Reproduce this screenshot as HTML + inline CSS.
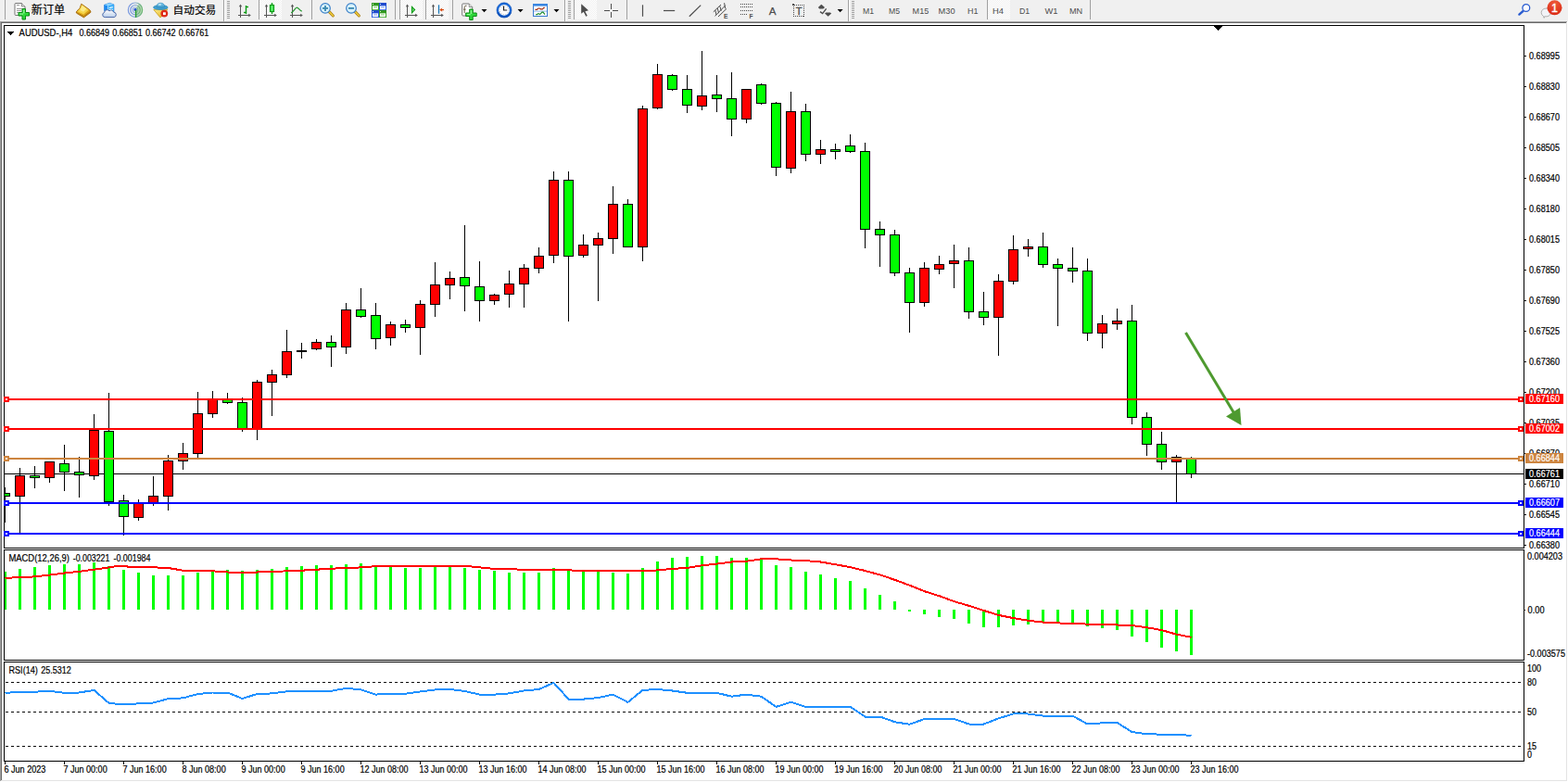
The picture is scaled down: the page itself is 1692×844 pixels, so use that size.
<!DOCTYPE html>
<html><head><meta charset="utf-8"><title>AUDUSD H4</title>
<style>
html,body{margin:0;padding:0;width:1692px;height:844px;overflow:hidden;background:#f0f0f0;font-family:"Liberation Sans",sans-serif}
svg text{font-family:"Liberation Sans",sans-serif}
</style></head><body>
<svg width="1692" height="844" viewBox="0 0 1692 844" font-family="Liberation Sans, sans-serif" style="position:absolute;left:0;top:0;display:block">
<rect x="0" y="0" width="1692" height="844" fill="#f0f0f0"/>
<rect x="0" y="23" width="1692" height="821" fill="#fff"/>
<rect x="0" y="23" width="1691" height="1" fill="#a0a0a0"/>
<rect x="1" y="24" width="1689" height="1" fill="#696969"/>
<rect x="0" y="23" width="1" height="820" fill="#a0a0a0"/>
<rect x="1" y="24" width="1" height="818" fill="#696969"/>
<rect x="1690" y="24" width="1" height="819" fill="#e3e3e3"/>
<rect x="1" y="842" width="1690" height="1" fill="#e3e3e3"/>
<g shape-rendering="crispEdges">
<rect x="4.5" y="27.5" width="1640" height="564" fill="#fff" stroke="#000" stroke-width="1"/>
<rect x="4.5" y="593.5" width="1640" height="119" fill="#fff" stroke="#000" stroke-width="1"/>
<rect x="4.5" y="714.5" width="1640" height="107" fill="#fff" stroke="#000" stroke-width="1"/>
<rect x="1645" y="60" width="2" height="1" fill="#000"/>
<rect x="1645" y="93" width="2" height="1" fill="#000"/>
<rect x="1645" y="126" width="2" height="1" fill="#000"/>
<rect x="1645" y="159" width="2" height="1" fill="#000"/>
<rect x="1645" y="192" width="2" height="1" fill="#000"/>
<rect x="1645" y="225" width="2" height="1" fill="#000"/>
<rect x="1645" y="258" width="2" height="1" fill="#000"/>
<rect x="1645" y="291" width="2" height="1" fill="#000"/>
<rect x="1645" y="324" width="2" height="1" fill="#000"/>
<rect x="1645" y="357" width="2" height="1" fill="#000"/>
<rect x="1645" y="390" width="2" height="1" fill="#000"/>
<rect x="1645" y="423" width="2" height="1" fill="#000"/>
<rect x="1645" y="456" width="2" height="1" fill="#000"/>
<rect x="1645" y="489" width="2" height="1" fill="#000"/>
<rect x="1645" y="522" width="2" height="1" fill="#000"/>
<rect x="1645" y="555" width="2" height="1" fill="#000"/>
<rect x="1645" y="588" width="2" height="1" fill="#000"/>
</g>
<text x="1650" y="64" font-size="10.1" fill="#000" stroke="#000" stroke-width="0.2" textLength="33" lengthAdjust="spacingAndGlyphs" >0.68995</text>
<text x="1650" y="97" font-size="10.1" fill="#000" stroke="#000" stroke-width="0.2" textLength="33" lengthAdjust="spacingAndGlyphs" >0.68830</text>
<text x="1650" y="130" font-size="10.1" fill="#000" stroke="#000" stroke-width="0.2" textLength="33" lengthAdjust="spacingAndGlyphs" >0.68670</text>
<text x="1650" y="163" font-size="10.1" fill="#000" stroke="#000" stroke-width="0.2" textLength="33" lengthAdjust="spacingAndGlyphs" >0.68505</text>
<text x="1650" y="196" font-size="10.1" fill="#000" stroke="#000" stroke-width="0.2" textLength="33" lengthAdjust="spacingAndGlyphs" >0.68340</text>
<text x="1650" y="229" font-size="10.1" fill="#000" stroke="#000" stroke-width="0.2" textLength="33" lengthAdjust="spacingAndGlyphs" >0.68180</text>
<text x="1650" y="262" font-size="10.1" fill="#000" stroke="#000" stroke-width="0.2" textLength="33" lengthAdjust="spacingAndGlyphs" >0.68015</text>
<text x="1650" y="295" font-size="10.1" fill="#000" stroke="#000" stroke-width="0.2" textLength="33" lengthAdjust="spacingAndGlyphs" >0.67850</text>
<text x="1650" y="328" font-size="10.1" fill="#000" stroke="#000" stroke-width="0.2" textLength="33" lengthAdjust="spacingAndGlyphs" >0.67690</text>
<text x="1650" y="361" font-size="10.1" fill="#000" stroke="#000" stroke-width="0.2" textLength="33" lengthAdjust="spacingAndGlyphs" >0.67525</text>
<text x="1650" y="394" font-size="10.1" fill="#000" stroke="#000" stroke-width="0.2" textLength="33" lengthAdjust="spacingAndGlyphs" >0.67360</text>
<text x="1650" y="427" font-size="10.1" fill="#000" stroke="#000" stroke-width="0.2" textLength="33" lengthAdjust="spacingAndGlyphs" >0.67200</text>
<text x="1650" y="460" font-size="10.1" fill="#000" stroke="#000" stroke-width="0.2" textLength="33" lengthAdjust="spacingAndGlyphs" >0.67035</text>
<text x="1650" y="493" font-size="10.1" fill="#000" stroke="#000" stroke-width="0.2" textLength="33" lengthAdjust="spacingAndGlyphs" >0.66870</text>
<text x="1650" y="526" font-size="10.1" fill="#000" stroke="#000" stroke-width="0.2" textLength="33" lengthAdjust="spacingAndGlyphs" >0.66710</text>
<text x="1650" y="559" font-size="10.1" fill="#000" stroke="#000" stroke-width="0.2" textLength="33" lengthAdjust="spacingAndGlyphs" >0.66545</text>
<text x="1650" y="592" font-size="10.1" fill="#000" stroke="#000" stroke-width="0.2" textLength="33" lengthAdjust="spacingAndGlyphs" >0.66380</text>
<g shape-rendering="crispEdges">
<rect x="5" y="511" width="1639" height="1" fill="#000"/>
<clipPath id="cp"><rect x="5" y="28" width="1639" height="563"/></clipPath>
<g clip-path="url(#cp)">
<rect x="5" y="526" width="1" height="38" fill="#000"/>
<rect x="0" y="532" width="11" height="4" fill="#000"/>
<rect x="1" y="533" width="9" height="2" fill="#00ff00"/>
<rect x="21" y="505" width="1" height="70" fill="#000"/>
<rect x="16" y="513" width="11" height="23" fill="#000"/>
<rect x="17" y="514" width="9" height="21" fill="#ff0000"/>
<rect x="37" y="503" width="1" height="24" fill="#000"/>
<rect x="32" y="513" width="11" height="3" fill="#000"/>
<rect x="33" y="514" width="9" height="1" fill="#00ff00"/>
<rect x="53" y="498" width="1" height="23" fill="#000"/>
<rect x="48" y="498" width="11" height="18" fill="#000"/>
<rect x="49" y="499" width="9" height="16" fill="#ff0000"/>
<rect x="69" y="480" width="1" height="50" fill="#000"/>
<rect x="64" y="500" width="11" height="10" fill="#000"/>
<rect x="65" y="501" width="9" height="8" fill="#00ff00"/>
<rect x="85" y="493" width="1" height="44" fill="#000"/>
<rect x="80" y="509" width="11" height="4" fill="#000"/>
<rect x="81" y="510" width="9" height="2" fill="#00ff00"/>
<rect x="101" y="447" width="1" height="71" fill="#000"/>
<rect x="96" y="464" width="11" height="50" fill="#000"/>
<rect x="97" y="465" width="9" height="48" fill="#ff0000"/>
<rect x="117" y="424" width="1" height="122" fill="#000"/>
<rect x="112" y="465" width="11" height="77" fill="#000"/>
<rect x="113" y="466" width="9" height="75" fill="#00ff00"/>
<rect x="133" y="534" width="1" height="44" fill="#000"/>
<rect x="128" y="540" width="11" height="18" fill="#000"/>
<rect x="129" y="541" width="9" height="16" fill="#00ff00"/>
<rect x="149" y="539" width="1" height="23" fill="#000"/>
<rect x="144" y="543" width="11" height="16" fill="#000"/>
<rect x="145" y="544" width="9" height="14" fill="#ff0000"/>
<rect x="165" y="514" width="1" height="32" fill="#000"/>
<rect x="160" y="535" width="11" height="8" fill="#000"/>
<rect x="161" y="536" width="9" height="6" fill="#ff0000"/>
<rect x="181" y="491" width="1" height="60" fill="#000"/>
<rect x="176" y="497" width="11" height="39" fill="#000"/>
<rect x="177" y="498" width="9" height="37" fill="#ff0000"/>
<rect x="197" y="478" width="1" height="29" fill="#000"/>
<rect x="192" y="489" width="11" height="9" fill="#000"/>
<rect x="193" y="490" width="9" height="7" fill="#ff0000"/>
<rect x="213" y="423" width="1" height="71" fill="#000"/>
<rect x="208" y="446" width="11" height="44" fill="#000"/>
<rect x="209" y="447" width="9" height="42" fill="#ff0000"/>
<rect x="229" y="422" width="1" height="29" fill="#000"/>
<rect x="224" y="430" width="11" height="17" fill="#000"/>
<rect x="225" y="431" width="9" height="15" fill="#ff0000"/>
<rect x="245" y="424" width="1" height="12" fill="#000"/>
<rect x="240" y="431" width="11" height="4" fill="#000"/>
<rect x="241" y="432" width="9" height="2" fill="#00ff00"/>
<rect x="261" y="429" width="1" height="37" fill="#000"/>
<rect x="256" y="434" width="11" height="29" fill="#000"/>
<rect x="257" y="435" width="9" height="27" fill="#00ff00"/>
<rect x="277" y="410" width="1" height="65" fill="#000"/>
<rect x="272" y="412" width="11" height="51" fill="#000"/>
<rect x="273" y="413" width="9" height="49" fill="#ff0000"/>
<rect x="293" y="399" width="1" height="50" fill="#000"/>
<rect x="288" y="404" width="11" height="9" fill="#000"/>
<rect x="289" y="405" width="9" height="7" fill="#ff0000"/>
<rect x="309" y="356" width="1" height="52" fill="#000"/>
<rect x="304" y="379" width="11" height="26" fill="#000"/>
<rect x="305" y="380" width="9" height="24" fill="#ff0000"/>
<rect x="325" y="370" width="1" height="17" fill="#000"/>
<rect x="320" y="378" width="11" height="2" fill="#000"/>
<rect x="341" y="366" width="1" height="12" fill="#000"/>
<rect x="336" y="369" width="11" height="8" fill="#000"/>
<rect x="337" y="370" width="9" height="6" fill="#ff0000"/>
<rect x="357" y="362" width="1" height="34" fill="#000"/>
<rect x="352" y="369" width="11" height="6" fill="#000"/>
<rect x="353" y="370" width="9" height="4" fill="#00ff00"/>
<rect x="373" y="327" width="1" height="55" fill="#000"/>
<rect x="368" y="334" width="11" height="41" fill="#000"/>
<rect x="369" y="335" width="9" height="39" fill="#ff0000"/>
<rect x="389" y="311" width="1" height="32" fill="#000"/>
<rect x="384" y="334" width="11" height="8" fill="#000"/>
<rect x="385" y="335" width="9" height="6" fill="#00ff00"/>
<rect x="405" y="327" width="1" height="50" fill="#000"/>
<rect x="400" y="340" width="11" height="26" fill="#000"/>
<rect x="401" y="341" width="9" height="24" fill="#00ff00"/>
<rect x="421" y="347" width="1" height="26" fill="#000"/>
<rect x="416" y="350" width="11" height="15" fill="#000"/>
<rect x="417" y="351" width="9" height="13" fill="#ff0000"/>
<rect x="437" y="345" width="1" height="14" fill="#000"/>
<rect x="432" y="350" width="11" height="4" fill="#000"/>
<rect x="433" y="351" width="9" height="2" fill="#00ff00"/>
<rect x="453" y="324" width="1" height="59" fill="#000"/>
<rect x="448" y="328" width="11" height="26" fill="#000"/>
<rect x="449" y="329" width="9" height="24" fill="#ff0000"/>
<rect x="469" y="283" width="1" height="59" fill="#000"/>
<rect x="464" y="307" width="11" height="22" fill="#000"/>
<rect x="465" y="308" width="9" height="20" fill="#ff0000"/>
<rect x="485" y="293" width="1" height="30" fill="#000"/>
<rect x="480" y="300" width="11" height="8" fill="#000"/>
<rect x="481" y="301" width="9" height="6" fill="#ff0000"/>
<rect x="501" y="243" width="1" height="93" fill="#000"/>
<rect x="496" y="299" width="11" height="10" fill="#000"/>
<rect x="497" y="300" width="9" height="8" fill="#00ff00"/>
<rect x="517" y="282" width="1" height="65" fill="#000"/>
<rect x="512" y="309" width="11" height="16" fill="#000"/>
<rect x="513" y="310" width="9" height="14" fill="#00ff00"/>
<rect x="533" y="317" width="1" height="12" fill="#000"/>
<rect x="528" y="318" width="11" height="7" fill="#000"/>
<rect x="529" y="319" width="9" height="5" fill="#ff0000"/>
<rect x="549" y="292" width="1" height="40" fill="#000"/>
<rect x="544" y="306" width="11" height="12" fill="#000"/>
<rect x="545" y="307" width="9" height="10" fill="#ff0000"/>
<rect x="565" y="285" width="1" height="47" fill="#000"/>
<rect x="560" y="289" width="11" height="18" fill="#000"/>
<rect x="561" y="290" width="9" height="16" fill="#ff0000"/>
<rect x="581" y="267" width="1" height="28" fill="#000"/>
<rect x="576" y="276" width="11" height="14" fill="#000"/>
<rect x="577" y="277" width="9" height="12" fill="#ff0000"/>
<rect x="597" y="185" width="1" height="99" fill="#000"/>
<rect x="592" y="194" width="11" height="82" fill="#000"/>
<rect x="593" y="195" width="9" height="80" fill="#ff0000"/>
<rect x="613" y="185" width="1" height="162" fill="#000"/>
<rect x="608" y="194" width="11" height="83" fill="#000"/>
<rect x="609" y="195" width="9" height="81" fill="#00ff00"/>
<rect x="629" y="253" width="1" height="25" fill="#000"/>
<rect x="624" y="264" width="11" height="12" fill="#000"/>
<rect x="625" y="265" width="9" height="10" fill="#ff0000"/>
<rect x="645" y="251" width="1" height="74" fill="#000"/>
<rect x="640" y="257" width="11" height="8" fill="#000"/>
<rect x="641" y="258" width="9" height="6" fill="#ff0000"/>
<rect x="661" y="201" width="1" height="73" fill="#000"/>
<rect x="656" y="220" width="11" height="38" fill="#000"/>
<rect x="657" y="221" width="9" height="36" fill="#ff0000"/>
<rect x="677" y="215" width="1" height="51" fill="#000"/>
<rect x="672" y="220" width="11" height="47" fill="#000"/>
<rect x="673" y="221" width="9" height="45" fill="#00ff00"/>
<rect x="693" y="114" width="1" height="168" fill="#000"/>
<rect x="688" y="117" width="11" height="150" fill="#000"/>
<rect x="689" y="118" width="9" height="148" fill="#ff0000"/>
<rect x="709" y="69" width="1" height="49" fill="#000"/>
<rect x="704" y="80" width="11" height="37" fill="#000"/>
<rect x="705" y="81" width="9" height="35" fill="#ff0000"/>
<rect x="725" y="80" width="1" height="18" fill="#000"/>
<rect x="720" y="81" width="11" height="16" fill="#000"/>
<rect x="721" y="82" width="9" height="14" fill="#00ff00"/>
<rect x="741" y="81" width="1" height="41" fill="#000"/>
<rect x="736" y="96" width="11" height="18" fill="#000"/>
<rect x="737" y="97" width="9" height="16" fill="#00ff00"/>
<rect x="757" y="55" width="1" height="64" fill="#000"/>
<rect x="752" y="103" width="11" height="12" fill="#000"/>
<rect x="753" y="104" width="9" height="10" fill="#ff0000"/>
<rect x="773" y="81" width="1" height="40" fill="#000"/>
<rect x="768" y="102" width="11" height="5" fill="#000"/>
<rect x="769" y="103" width="9" height="3" fill="#00ff00"/>
<rect x="789" y="78" width="1" height="69" fill="#000"/>
<rect x="784" y="106" width="11" height="23" fill="#000"/>
<rect x="785" y="107" width="9" height="21" fill="#00ff00"/>
<rect x="805" y="96" width="1" height="37" fill="#000"/>
<rect x="800" y="96" width="11" height="33" fill="#000"/>
<rect x="801" y="97" width="9" height="31" fill="#ff0000"/>
<rect x="821" y="90" width="1" height="23" fill="#000"/>
<rect x="816" y="91" width="11" height="21" fill="#000"/>
<rect x="817" y="92" width="9" height="19" fill="#00ff00"/>
<rect x="837" y="110" width="1" height="80" fill="#000"/>
<rect x="832" y="111" width="11" height="70" fill="#000"/>
<rect x="833" y="112" width="9" height="68" fill="#00ff00"/>
<rect x="853" y="99" width="1" height="88" fill="#000"/>
<rect x="848" y="120" width="11" height="62" fill="#000"/>
<rect x="849" y="121" width="9" height="60" fill="#ff0000"/>
<rect x="869" y="112" width="1" height="62" fill="#000"/>
<rect x="864" y="120" width="11" height="47" fill="#000"/>
<rect x="865" y="121" width="9" height="45" fill="#00ff00"/>
<rect x="885" y="151" width="1" height="26" fill="#000"/>
<rect x="880" y="161" width="11" height="6" fill="#000"/>
<rect x="881" y="162" width="9" height="4" fill="#ff0000"/>
<rect x="901" y="155" width="1" height="17" fill="#000"/>
<rect x="896" y="161" width="11" height="3" fill="#000"/>
<rect x="897" y="162" width="9" height="1" fill="#00ff00"/>
<rect x="917" y="145" width="1" height="20" fill="#000"/>
<rect x="912" y="157" width="11" height="7" fill="#000"/>
<rect x="913" y="158" width="9" height="5" fill="#00ff00"/>
<rect x="933" y="154" width="1" height="114" fill="#000"/>
<rect x="928" y="163" width="11" height="85" fill="#000"/>
<rect x="929" y="164" width="9" height="83" fill="#00ff00"/>
<rect x="949" y="239" width="1" height="49" fill="#000"/>
<rect x="944" y="247" width="11" height="7" fill="#000"/>
<rect x="945" y="248" width="9" height="5" fill="#00ff00"/>
<rect x="965" y="248" width="1" height="50" fill="#000"/>
<rect x="960" y="253" width="11" height="42" fill="#000"/>
<rect x="961" y="254" width="9" height="40" fill="#00ff00"/>
<rect x="981" y="289" width="1" height="70" fill="#000"/>
<rect x="976" y="294" width="11" height="33" fill="#000"/>
<rect x="977" y="295" width="9" height="31" fill="#00ff00"/>
<rect x="997" y="283" width="1" height="48" fill="#000"/>
<rect x="992" y="289" width="11" height="38" fill="#000"/>
<rect x="993" y="290" width="9" height="36" fill="#ff0000"/>
<rect x="1013" y="276" width="1" height="20" fill="#000"/>
<rect x="1008" y="285" width="11" height="6" fill="#000"/>
<rect x="1009" y="286" width="9" height="4" fill="#ff0000"/>
<rect x="1029" y="264" width="1" height="47" fill="#000"/>
<rect x="1024" y="281" width="11" height="4" fill="#000"/>
<rect x="1025" y="282" width="9" height="2" fill="#ff0000"/>
<rect x="1045" y="267" width="1" height="77" fill="#000"/>
<rect x="1040" y="281" width="11" height="56" fill="#000"/>
<rect x="1041" y="282" width="9" height="54" fill="#00ff00"/>
<rect x="1061" y="315" width="1" height="36" fill="#000"/>
<rect x="1056" y="336" width="11" height="7" fill="#000"/>
<rect x="1057" y="337" width="9" height="5" fill="#00ff00"/>
<rect x="1077" y="296" width="1" height="88" fill="#000"/>
<rect x="1072" y="303" width="11" height="40" fill="#000"/>
<rect x="1073" y="304" width="9" height="38" fill="#ff0000"/>
<rect x="1093" y="254" width="1" height="53" fill="#000"/>
<rect x="1088" y="269" width="11" height="35" fill="#000"/>
<rect x="1089" y="270" width="9" height="33" fill="#ff0000"/>
<rect x="1109" y="258" width="1" height="19" fill="#000"/>
<rect x="1104" y="266" width="11" height="3" fill="#000"/>
<rect x="1105" y="267" width="9" height="1" fill="#ff0000"/>
<rect x="1125" y="251" width="1" height="38" fill="#000"/>
<rect x="1120" y="266" width="11" height="20" fill="#000"/>
<rect x="1121" y="267" width="9" height="18" fill="#00ff00"/>
<rect x="1141" y="279" width="1" height="73" fill="#000"/>
<rect x="1136" y="285" width="11" height="5" fill="#000"/>
<rect x="1137" y="286" width="9" height="3" fill="#00ff00"/>
<rect x="1157" y="267" width="1" height="38" fill="#000"/>
<rect x="1152" y="289" width="11" height="4" fill="#000"/>
<rect x="1153" y="290" width="9" height="2" fill="#00ff00"/>
<rect x="1173" y="279" width="1" height="89" fill="#000"/>
<rect x="1168" y="292" width="11" height="68" fill="#000"/>
<rect x="1169" y="293" width="9" height="66" fill="#00ff00"/>
<rect x="1189" y="340" width="1" height="36" fill="#000"/>
<rect x="1184" y="349" width="11" height="11" fill="#000"/>
<rect x="1185" y="350" width="9" height="9" fill="#ff0000"/>
<rect x="1205" y="333" width="1" height="23" fill="#000"/>
<rect x="1200" y="346" width="11" height="4" fill="#000"/>
<rect x="1201" y="347" width="9" height="2" fill="#ff0000"/>
<rect x="1221" y="329" width="1" height="129" fill="#000"/>
<rect x="1216" y="346" width="11" height="105" fill="#000"/>
<rect x="1217" y="347" width="9" height="103" fill="#00ff00"/>
<rect x="1237" y="445" width="1" height="47" fill="#000"/>
<rect x="1232" y="450" width="11" height="30" fill="#000"/>
<rect x="1233" y="451" width="9" height="28" fill="#00ff00"/>
<rect x="1253" y="466" width="1" height="41" fill="#000"/>
<rect x="1248" y="479" width="11" height="20" fill="#000"/>
<rect x="1249" y="480" width="9" height="18" fill="#00ff00"/>
<rect x="1269" y="491" width="1" height="51" fill="#000"/>
<rect x="1264" y="493" width="11" height="6" fill="#000"/>
<rect x="1265" y="494" width="9" height="4" fill="#ff0000"/>
<rect x="1285" y="493" width="1" height="23" fill="#000"/>
<rect x="1280" y="495" width="11" height="17" fill="#000"/>
<rect x="1281" y="496" width="9" height="15" fill="#00ff00"/>
</g>
<rect x="5" y="430" width="1639" height="2" fill="#ff0000"/>
<rect x="4" y="428" width="6" height="6" fill="#ff0000"/>
<rect x="6" y="430" width="2" height="2" fill="#fff"/>
<rect x="1638" y="428" width="6" height="6" fill="#ff0000"/>
<rect x="1640" y="430" width="2" height="2" fill="#fff"/>
<rect x="5" y="462" width="1639" height="2" fill="#ff0000"/>
<rect x="4" y="460" width="6" height="6" fill="#ff0000"/>
<rect x="6" y="462" width="2" height="2" fill="#fff"/>
<rect x="1638" y="460" width="6" height="6" fill="#ff0000"/>
<rect x="1640" y="462" width="2" height="2" fill="#fff"/>
<rect x="5" y="494" width="1639" height="2" fill="#cd853f"/>
<rect x="4" y="492" width="6" height="6" fill="#cd853f"/>
<rect x="6" y="494" width="2" height="2" fill="#fff"/>
<rect x="1638" y="492" width="6" height="6" fill="#cd853f"/>
<rect x="1640" y="494" width="2" height="2" fill="#fff"/>
<rect x="5" y="542" width="1639" height="2" fill="#0000ff"/>
<rect x="4" y="540" width="6" height="6" fill="#0000ff"/>
<rect x="6" y="542" width="2" height="2" fill="#fff"/>
<rect x="1638" y="540" width="6" height="6" fill="#0000ff"/>
<rect x="1640" y="542" width="2" height="2" fill="#fff"/>
<rect x="5" y="575" width="1639" height="2" fill="#0000ff"/>
<rect x="4" y="573" width="6" height="6" fill="#0000ff"/>
<rect x="6" y="575" width="2" height="2" fill="#fff"/>
<rect x="1638" y="573" width="6" height="6" fill="#0000ff"/>
<rect x="1640" y="575" width="2" height="2" fill="#fff"/>
<rect x="1646" y="425" width="41" height="11" fill="#ff0000"/>
<rect x="1646" y="457" width="41" height="11" fill="#ff0000"/>
<rect x="1646" y="489" width="41" height="11" fill="#cd853f"/>
<rect x="1646" y="537" width="41" height="11" fill="#0000ff"/>
<rect x="1646" y="570" width="41" height="11" fill="#0000ff"/>
<rect x="1646" y="506" width="41" height="11" fill="#000"/>
</g>
<text x="1650" y="434" font-size="10.1" fill="#fff" stroke="#fff" stroke-width="0.2" textLength="33" lengthAdjust="spacingAndGlyphs" >0.67160</text>
<text x="1650" y="466" font-size="10.1" fill="#fff" stroke="#fff" stroke-width="0.2" textLength="33" lengthAdjust="spacingAndGlyphs" >0.67002</text>
<text x="1650" y="498" font-size="10.1" fill="#fff" stroke="#fff" stroke-width="0.2" textLength="33" lengthAdjust="spacingAndGlyphs" >0.66844</text>
<text x="1650" y="546" font-size="10.1" fill="#fff" stroke="#fff" stroke-width="0.2" textLength="33" lengthAdjust="spacingAndGlyphs" >0.66607</text>
<text x="1650" y="579" font-size="10.1" fill="#fff" stroke="#fff" stroke-width="0.2" textLength="33" lengthAdjust="spacingAndGlyphs" >0.66444</text>
<text x="1650" y="515" font-size="10.1" fill="#fff" stroke="#fff" stroke-width="0.2" textLength="33" lengthAdjust="spacingAndGlyphs" >0.66761</text>
<line x1="1279.5" y1="359" x2="1332" y2="446.5" stroke="#4e9a2f" stroke-width="3"/>
<polygon points="1339.5,459 1323,449.5 1338,440" fill="#4e9a2f"/>
<g shape-rendering="crispEdges">
<rect x="8" y="34" width="7" height="1" fill="#000"/>
<rect x="9" y="35" width="5" height="1" fill="#000"/>
<rect x="10" y="36" width="3" height="1" fill="#000"/>
<rect x="11" y="37" width="1" height="1" fill="#000"/>
<rect x="1310" y="28" width="9" height="1" fill="#000"/>
<rect x="1311" y="29" width="7" height="1" fill="#000"/>
<rect x="1312" y="30" width="5" height="1" fill="#000"/>
<rect x="1313" y="31" width="3" height="1" fill="#000"/>
<rect x="1314" y="32" width="1" height="1" fill="#000"/>
</g>
<text x="20.6" y="39" font-size="10.1" fill="#000" stroke="#000" stroke-width="0.2" textLength="57.6" lengthAdjust="spacingAndGlyphs" >AUDUSD-,H4</text>
<text x="85.4" y="39" font-size="10.1" fill="#000" stroke="#000" stroke-width="0.2" textLength="32.6" lengthAdjust="spacingAndGlyphs" >0.66849</text>
<text x="121.2" y="39" font-size="10.1" fill="#000" stroke="#000" stroke-width="0.2" textLength="32.6" lengthAdjust="spacingAndGlyphs" >0.66851</text>
<text x="157.0" y="39" font-size="10.1" fill="#000" stroke="#000" stroke-width="0.2" textLength="32.6" lengthAdjust="spacingAndGlyphs" >0.66742</text>
<text x="192.8" y="39" font-size="10.1" fill="#000" stroke="#000" stroke-width="0.2" textLength="32.6" lengthAdjust="spacingAndGlyphs" >0.66761</text>
<g shape-rendering="crispEdges">
<rect x="5" y="617" width="2" height="41" fill="#00ff00"/>
<rect x="20" y="614" width="3" height="44" fill="#00ff00"/>
<rect x="36" y="612" width="3" height="46" fill="#00ff00"/>
<rect x="52" y="610" width="3" height="48" fill="#00ff00"/>
<rect x="68" y="609" width="3" height="49" fill="#00ff00"/>
<rect x="84" y="609" width="3" height="49" fill="#00ff00"/>
<rect x="100" y="607" width="3" height="51" fill="#00ff00"/>
<rect x="116" y="611" width="3" height="47" fill="#00ff00"/>
<rect x="132" y="615" width="3" height="43" fill="#00ff00"/>
<rect x="148" y="618" width="3" height="40" fill="#00ff00"/>
<rect x="164" y="621" width="3" height="37" fill="#00ff00"/>
<rect x="180" y="621" width="3" height="37" fill="#00ff00"/>
<rect x="196" y="621" width="3" height="37" fill="#00ff00"/>
<rect x="212" y="618" width="3" height="40" fill="#00ff00"/>
<rect x="228" y="617" width="3" height="41" fill="#00ff00"/>
<rect x="244" y="615" width="3" height="43" fill="#00ff00"/>
<rect x="260" y="616" width="3" height="42" fill="#00ff00"/>
<rect x="276" y="615" width="3" height="43" fill="#00ff00"/>
<rect x="292" y="614" width="3" height="44" fill="#00ff00"/>
<rect x="308" y="612" width="3" height="46" fill="#00ff00"/>
<rect x="324" y="611" width="3" height="47" fill="#00ff00"/>
<rect x="340" y="610" width="3" height="48" fill="#00ff00"/>
<rect x="356" y="610" width="3" height="48" fill="#00ff00"/>
<rect x="372" y="609" width="3" height="49" fill="#00ff00"/>
<rect x="388" y="608" width="3" height="50" fill="#00ff00"/>
<rect x="404" y="610" width="3" height="48" fill="#00ff00"/>
<rect x="420" y="611.5" width="3" height="46.5" fill="#00ff00"/>
<rect x="436" y="613" width="3" height="45" fill="#00ff00"/>
<rect x="452" y="613" width="3" height="45" fill="#00ff00"/>
<rect x="468" y="611.5" width="3" height="46.5" fill="#00ff00"/>
<rect x="484" y="611.5" width="3" height="46.5" fill="#00ff00"/>
<rect x="500" y="613" width="3" height="45" fill="#00ff00"/>
<rect x="516" y="615" width="3" height="43" fill="#00ff00"/>
<rect x="532" y="616" width="3" height="42" fill="#00ff00"/>
<rect x="548" y="618" width="3" height="40" fill="#00ff00"/>
<rect x="564" y="618" width="3" height="40" fill="#00ff00"/>
<rect x="580" y="618" width="3" height="40" fill="#00ff00"/>
<rect x="596" y="613" width="3" height="45" fill="#00ff00"/>
<rect x="612" y="616" width="3" height="42" fill="#00ff00"/>
<rect x="628" y="617" width="3" height="41" fill="#00ff00"/>
<rect x="644" y="617" width="3" height="41" fill="#00ff00"/>
<rect x="660" y="618" width="3" height="40" fill="#00ff00"/>
<rect x="676" y="619" width="3" height="39" fill="#00ff00"/>
<rect x="692" y="613" width="3" height="45" fill="#00ff00"/>
<rect x="708" y="606" width="3" height="52" fill="#00ff00"/>
<rect x="724" y="602" width="3" height="56" fill="#00ff00"/>
<rect x="740" y="601" width="3" height="57" fill="#00ff00"/>
<rect x="756" y="600" width="3" height="58" fill="#00ff00"/>
<rect x="772" y="600" width="3" height="58" fill="#00ff00"/>
<rect x="788" y="602" width="3" height="56" fill="#00ff00"/>
<rect x="804" y="602" width="3" height="56" fill="#00ff00"/>
<rect x="820" y="604" width="3" height="54" fill="#00ff00"/>
<rect x="836" y="610" width="3" height="48" fill="#00ff00"/>
<rect x="852" y="612" width="3" height="46" fill="#00ff00"/>
<rect x="868" y="617" width="3" height="41" fill="#00ff00"/>
<rect x="884" y="620" width="3" height="38" fill="#00ff00"/>
<rect x="900" y="624" width="3" height="34" fill="#00ff00"/>
<rect x="916" y="627" width="3" height="31" fill="#00ff00"/>
<rect x="932" y="635" width="3" height="23" fill="#00ff00"/>
<rect x="948" y="642" width="3" height="16" fill="#00ff00"/>
<rect x="964" y="649" width="3" height="9" fill="#00ff00"/>
<rect x="980" y="658" width="3" height="1.5" fill="#00ff00"/>
<rect x="996" y="658" width="3" height="5" fill="#00ff00"/>
<rect x="1012" y="658" width="3" height="8" fill="#00ff00"/>
<rect x="1028" y="658" width="3" height="10" fill="#00ff00"/>
<rect x="1044" y="658" width="3" height="15" fill="#00ff00"/>
<rect x="1060" y="658" width="3" height="19" fill="#00ff00"/>
<rect x="1076" y="658" width="3" height="19" fill="#00ff00"/>
<rect x="1092" y="658" width="3" height="17" fill="#00ff00"/>
<rect x="1108" y="658" width="3" height="16" fill="#00ff00"/>
<rect x="1124" y="658" width="3" height="14" fill="#00ff00"/>
<rect x="1140" y="658" width="3" height="14" fill="#00ff00"/>
<rect x="1156" y="658" width="3" height="14" fill="#00ff00"/>
<rect x="1172" y="658" width="3" height="18" fill="#00ff00"/>
<rect x="1188" y="658" width="3" height="20" fill="#00ff00"/>
<rect x="1204" y="658" width="3" height="22" fill="#00ff00"/>
<rect x="1220" y="658" width="3" height="29" fill="#00ff00"/>
<rect x="1236" y="658" width="3" height="35" fill="#00ff00"/>
<rect x="1252" y="658" width="3" height="41" fill="#00ff00"/>
<rect x="1268" y="658" width="3" height="45" fill="#00ff00"/>
<rect x="1284" y="658" width="3" height="49" fill="#00ff00"/>
</g>
<polyline points="5.5,624 21.5,623 37.5,622.4 53.5,620.6 69.5,618.5 85.5,616.8 101.5,614.7 117.5,612.4 123.5,611.4 149.5,611.6 181.5,613 197.5,615.7 229.5,616.3 245.5,617.5 277.5,617.5 293.5,617 325.5,615.7 341.5,614.7 357.5,613.7 389.5,612.4 405.5,611.2 421.5,610.8 501.5,610.8 517.5,612.4 533.5,613.9 565.5,614.7 613.5,615.4 645.5,616.4 693.5,616.4 709.5,615.4 725.5,613.9 741.5,612.9 757.5,610.3 773.5,608.6 789.5,606.5 805.5,605.8 821.5,603.3 837.5,603.3 853.5,604.5 869.5,605.1 885.5,606.5 901.5,609.2 917.5,612.2 933.5,616 949.5,620.4 965.5,625.8 981.5,631.7 997.5,638.2 1013.5,643.2 1029.5,649.1 1045.5,653.8 1061.5,658.9 1077.5,663.9 1093.5,667.1 1109.5,669.8 1125.5,671.6 1141.5,672.4 1157.5,673 1173.5,673.6 1189.5,674.2 1205.5,674.5 1221.5,675.1 1237.5,677.2 1253.5,680.1 1269.5,684.6 1285.5,687.8" fill="none" stroke="#ff0000" stroke-width="2" stroke-linejoin="round" shape-rendering="crispEdges"/>
<text x="9.4" y="606" font-size="10.1" fill="#000" stroke="#000" stroke-width="0.2" textLength="65.6" lengthAdjust="spacingAndGlyphs" >MACD(12,26,9)</text>
<text x="78.8" y="606" font-size="10.1" fill="#000" stroke="#000" stroke-width="0.2" textLength="39.6" lengthAdjust="spacingAndGlyphs" >-0.003221</text>
<text x="122.5" y="606" font-size="10.1" fill="#000" stroke="#000" stroke-width="0.2" textLength="40" lengthAdjust="spacingAndGlyphs" >-0.001984</text>
<g shape-rendering="crispEdges">
<rect x="1645" y="658" width="1" height="1" fill="#000"/>
</g>
<text x="1648" y="604" font-size="10.1" fill="#000" stroke="#000" stroke-width="0.2" textLength="38" lengthAdjust="spacingAndGlyphs" >0.004203</text>
<text x="1648.6" y="662" font-size="10.1" fill="#000" stroke="#000" stroke-width="0.2" textLength="18" lengthAdjust="spacingAndGlyphs" >0.00</text>
<text x="1648" y="709" font-size="10.1" fill="#000" stroke="#000" stroke-width="0.2" textLength="41" lengthAdjust="spacingAndGlyphs" >-0.003575</text>
<g shape-rendering="crispEdges">
<line x1="6" y1="736.5" x2="1644" y2="736.5" stroke="#000" stroke-width="1" stroke-dasharray="3 3"/>
<line x1="6" y1="768.5" x2="1644" y2="768.5" stroke="#000" stroke-width="1" stroke-dasharray="3 3"/>
<line x1="6" y1="805.5" x2="1644" y2="805.5" stroke="#000" stroke-width="1" stroke-dasharray="3 3"/>
</g>
<polyline points="5.5,747.8 21.5,746.9 37.5,746.7 53.5,745.8 69.5,747.8 85.5,747.5 101.5,744.9 117.5,758.8 133.5,760.5 149.5,759.3 165.5,758.5 181.5,754.2 197.5,753.4 213.5,749 229.5,747.5 245.5,747.5 261.5,754 277.5,749 293.5,748.4 309.5,746.3 325.5,746 341.5,746 357.5,745.8 373.5,742.8 389.5,744.3 405.5,749.6 421.5,748.7 437.5,748.7 453.5,746.4 469.5,744.5 485.5,744 501.5,746 517.5,749.6 533.5,749.6 549.5,748.4 565.5,745.5 581.5,744 597.5,736.9 613.5,754.6 629.5,754.6 645.5,753.1 661.5,749.6 677.5,757.9 693.5,744.9 709.5,744 725.5,745.5 741.5,747.8 757.5,747.8 773.5,747.8 789.5,751.7 805.5,749.6 821.5,751.7 837.5,762.9 853.5,757.6 869.5,762.9 885.5,762.9 901.5,762.9 917.5,762.9 933.5,773.5 949.5,773.5 965.5,779.2 981.5,781.8 997.5,776 1013.5,775.9 1029.5,775.9 1045.5,781.5 1061.5,781.5 1077.5,775.4 1093.5,770.4 1109.5,770.5 1125.5,772.6 1141.5,772.6 1157.5,772.6 1173.5,781.5 1189.5,780.3 1205.5,780 1221.5,790 1237.5,792.3 1253.5,792.6 1269.5,792.7 1285.5,793.9" fill="none" stroke="#1e90ff" stroke-width="2" stroke-linejoin="round" shape-rendering="crispEdges"/>
<text x="9.5" y="727" font-size="10.1" fill="#000" stroke="#000" stroke-width="0.2" textLength="31.3" lengthAdjust="spacingAndGlyphs" >RSI(14)</text>
<text x="44.3" y="727" font-size="10.1" fill="#000" stroke="#000" stroke-width="0.2" textLength="32.5" lengthAdjust="spacingAndGlyphs" >25.5312</text>
<text x="1648" y="725" font-size="10.1" fill="#000" stroke="#000" stroke-width="0.2" textLength="15" lengthAdjust="spacingAndGlyphs" >100</text>
<text x="1648" y="740" font-size="10.1" fill="#000" stroke="#000" stroke-width="0.2" textLength="10" lengthAdjust="spacingAndGlyphs" >80</text>
<text x="1648" y="772" font-size="10.1" fill="#000" stroke="#000" stroke-width="0.2" textLength="10" lengthAdjust="spacingAndGlyphs" >50</text>
<text x="1648" y="809" font-size="10.1" fill="#000" stroke="#000" stroke-width="0.2" textLength="10" lengthAdjust="spacingAndGlyphs" >15</text>
<text x="1648" y="818" font-size="10.1" fill="#000" stroke="#000" stroke-width="0.2" textLength="5" lengthAdjust="spacingAndGlyphs" >0</text>
<g shape-rendering="crispEdges">
<rect x="5" y="822" width="1" height="3" fill="#000"/>
<rect x="69" y="822" width="1" height="3" fill="#000"/>
<rect x="133" y="822" width="1" height="3" fill="#000"/>
<rect x="197" y="822" width="1" height="3" fill="#000"/>
<rect x="261" y="822" width="1" height="3" fill="#000"/>
<rect x="325" y="822" width="1" height="3" fill="#000"/>
<rect x="389" y="822" width="1" height="3" fill="#000"/>
<rect x="453" y="822" width="1" height="3" fill="#000"/>
<rect x="517" y="822" width="1" height="3" fill="#000"/>
<rect x="581" y="822" width="1" height="3" fill="#000"/>
<rect x="645" y="822" width="1" height="3" fill="#000"/>
<rect x="709" y="822" width="1" height="3" fill="#000"/>
<rect x="773" y="822" width="1" height="3" fill="#000"/>
<rect x="837" y="822" width="1" height="3" fill="#000"/>
<rect x="901" y="822" width="1" height="3" fill="#000"/>
<rect x="965" y="822" width="1" height="3" fill="#000"/>
<rect x="1029" y="822" width="1" height="3" fill="#000"/>
<rect x="1093" y="822" width="1" height="3" fill="#000"/>
<rect x="1157" y="822" width="1" height="3" fill="#000"/>
<rect x="1221" y="822" width="1" height="3" fill="#000"/>
<rect x="1285" y="822" width="1" height="3" fill="#000"/>
</g>
<text x="4.4" y="834" font-size="10.1" fill="#000" stroke="#000" stroke-width="0.2" textLength="45" lengthAdjust="spacingAndGlyphs" >6 Jun 2023</text>
<text x="68.4" y="834" font-size="10.1" fill="#000" stroke="#000" stroke-width="0.2" textLength="47.3" lengthAdjust="spacingAndGlyphs" >7 Jun 00:00</text>
<text x="132.4" y="834" font-size="10.1" fill="#000" stroke="#000" stroke-width="0.2" textLength="47.3" lengthAdjust="spacingAndGlyphs" >7 Jun 16:00</text>
<text x="196.4" y="834" font-size="10.1" fill="#000" stroke="#000" stroke-width="0.2" textLength="47.3" lengthAdjust="spacingAndGlyphs" >8 Jun 08:00</text>
<text x="260.4" y="834" font-size="10.1" fill="#000" stroke="#000" stroke-width="0.2" textLength="47.3" lengthAdjust="spacingAndGlyphs" >9 Jun 00:00</text>
<text x="324.4" y="834" font-size="10.1" fill="#000" stroke="#000" stroke-width="0.2" textLength="47.3" lengthAdjust="spacingAndGlyphs" >9 Jun 16:00</text>
<text x="388.4" y="834" font-size="10.1" fill="#000" stroke="#000" stroke-width="0.2" textLength="52" lengthAdjust="spacingAndGlyphs" >12 Jun 08:00</text>
<text x="452.4" y="834" font-size="10.1" fill="#000" stroke="#000" stroke-width="0.2" textLength="52" lengthAdjust="spacingAndGlyphs" >13 Jun 00:00</text>
<text x="516.4" y="834" font-size="10.1" fill="#000" stroke="#000" stroke-width="0.2" textLength="52" lengthAdjust="spacingAndGlyphs" >13 Jun 16:00</text>
<text x="580.4" y="834" font-size="10.1" fill="#000" stroke="#000" stroke-width="0.2" textLength="52" lengthAdjust="spacingAndGlyphs" >14 Jun 08:00</text>
<text x="644.4" y="834" font-size="10.1" fill="#000" stroke="#000" stroke-width="0.2" textLength="52" lengthAdjust="spacingAndGlyphs" >15 Jun 00:00</text>
<text x="708.4" y="834" font-size="10.1" fill="#000" stroke="#000" stroke-width="0.2" textLength="52" lengthAdjust="spacingAndGlyphs" >15 Jun 16:00</text>
<text x="772.4" y="834" font-size="10.1" fill="#000" stroke="#000" stroke-width="0.2" textLength="52" lengthAdjust="spacingAndGlyphs" >16 Jun 08:00</text>
<text x="836.4" y="834" font-size="10.1" fill="#000" stroke="#000" stroke-width="0.2" textLength="52" lengthAdjust="spacingAndGlyphs" >19 Jun 00:00</text>
<text x="900.4" y="834" font-size="10.1" fill="#000" stroke="#000" stroke-width="0.2" textLength="52" lengthAdjust="spacingAndGlyphs" >19 Jun 16:00</text>
<text x="964.4" y="834" font-size="10.1" fill="#000" stroke="#000" stroke-width="0.2" textLength="52" lengthAdjust="spacingAndGlyphs" >20 Jun 08:00</text>
<text x="1028.4" y="834" font-size="10.1" fill="#000" stroke="#000" stroke-width="0.2" textLength="52" lengthAdjust="spacingAndGlyphs" >21 Jun 00:00</text>
<text x="1092.4" y="834" font-size="10.1" fill="#000" stroke="#000" stroke-width="0.2" textLength="52" lengthAdjust="spacingAndGlyphs" >21 Jun 16:00</text>
<text x="1156.4" y="834" font-size="10.1" fill="#000" stroke="#000" stroke-width="0.2" textLength="52" lengthAdjust="spacingAndGlyphs" >22 Jun 08:00</text>
<text x="1220.4" y="834" font-size="10.1" fill="#000" stroke="#000" stroke-width="0.2" textLength="52" lengthAdjust="spacingAndGlyphs" >23 Jun 00:00</text>
<text x="1284.4" y="834" font-size="10.1" fill="#000" stroke="#000" stroke-width="0.2" textLength="52" lengthAdjust="spacingAndGlyphs" >23 Jun 16:00</text>
<defs><pattern id="chk" width="2" height="2" patternUnits="userSpaceOnUse"><rect width="2" height="2" fill="#fff"/><rect width="1" height="1" fill="#f0f0f0"/><rect x="1" y="1" width="1" height="1" fill="#f0f0f0"/></pattern>
<linearGradient id="gold" x1="0" y1="0" x2="1" y2="1"><stop offset="0" stop-color="#f9df6a"/><stop offset="0.5" stop-color="#e8b41c"/><stop offset="1" stop-color="#c98a10"/></linearGradient>
<linearGradient id="bluebox" x1="0" y1="0" x2="0" y2="1"><stop offset="0" stop-color="#22b4ff"/><stop offset="1" stop-color="#1a78e8"/></linearGradient>
<linearGradient id="cloud" x1="0" y1="0" x2="0" y2="1"><stop offset="0" stop-color="#ffffff"/><stop offset="1" stop-color="#b8cdea"/></linearGradient>
<linearGradient id="sig" x1="0" y1="0" x2="1" y2="0"><stop offset="0" stop-color="#3a6ad8"/><stop offset="0.45" stop-color="#5a8ad0"/><stop offset="1" stop-color="#4aa850"/></linearGradient>
<radialGradient id="badge" cx="0.5" cy="0.2" r="0.9"><stop offset="0" stop-color="#ee5a3a"/><stop offset="1" stop-color="#d82410"/></radialGradient>
<linearGradient id="hat" x1="0" y1="0" x2="0" y2="1"><stop offset="0" stop-color="#7cc8ee"/><stop offset="1" stop-color="#3a98c8"/></linearGradient>
<linearGradient id="face" x1="0" y1="0" x2="1" y2="1"><stop offset="0" stop-color="#fff08a"/><stop offset="1" stop-color="#e0a818"/></linearGradient>
</defs>
<rect x="5" y="0" width="1" height="21" fill="#a0a0a0" shape-rendering="crispEdges"/>
<path d="M17.0,3.5 h6.5 l3.5,3.5 v9.5 h-10 a1,1 0 0 1 -1,-1 v-11 a1,1 0 0 1 1,-1z" fill="#fff" stroke="#777" stroke-width="1"/>
<path d="M23.5,3.5 v3.5 h3.5" fill="#e0e0e0" stroke="#777" stroke-width="0.8"/>
<g fill="#9a9a9a" shape-rendering="crispEdges"><rect x="18.0" y="5" width="3" height="1.4"/><rect x="18.0" y="9" width="6" height="1"/><rect x="18.0" y="11" width="5" height="1"/><rect x="18.0" y="13" width="3" height="1"/></g>
<path d="M24.0,9.5 h3.5 v4 h4 v3.5 h-4 v4 h-3.5 v-4 h-4 v-3.5 h4z" fill="#2fd83a" stroke="#0a8a14" stroke-width="1"/>
<path d="M25.0,10.5 h1.5 v4 h-1.5z M21.0,14.5 h4 v1.2 h-4z" fill="#8af58f"/>
<text x="33.8" y="14.5" font-size="12.1" fill="#000" stroke="#000" stroke-width="0.17" textLength="36.3" lengthAdjust="spacingAndGlyphs" style="font-family:'Liberation Sans','Noto Sans CJK SC',sans-serif">新订单</text>
<path d="M87.8,4.2 L86.2,8.6 Q85.6,9.6 84.8,10 L82.2,13 L82.6,14.2 L90.4,18.9 L97.8,13.4 L97.8,12.4 L96.9,10.7 Z" fill="url(#gold)" stroke="#a4690e" stroke-width="0.9" stroke-linejoin="round"/>
<path d="M82.4,13.2 L90.4,17.6 L97.6,12.4" fill="none" stroke="#a4690e" stroke-width="0.8"/>
<path d="M88.4,5.4 L95.6,10.8 L90.2,15.6 L84.4,12.2 Q86.6,10.6 87,8.8 Z" fill="#fbe25a" opacity="0.75"/>
<path d="M88.8,6 L93.4,9.4 L90,12.8 L86.6,11 Z" fill="#fff6b0" opacity="0.6"/>
<path d="M112.5,5.2 L118.3,3.3 L122.9,4.9 L122.9,13 L116.4,13 L112.5,11.6 Z" fill="#1a8af0" stroke="#1672d8" stroke-width="0.6"/>
<path d="M116.4,6.2 L122.9,4.9 L122.9,13 L116.4,13 Z" fill="#3aaef8"/>
<path d="M112.5,5.2 L116.4,6.2 L122.9,4.9 L118.3,3.3 Z" fill="#8ad4ff"/>
<path d="M116.4,6.2 V13" stroke="#c8ecff" stroke-width="0.8"/><path d="M117.8,8.6 L121.8,7.6 M117.8,10.6 L121.8,10.2" stroke="#e8f8ff" stroke-width="1.1"/>
<path d="M113.2,18.6 a2.6,2.6 0 0 1 -0.6,-5.1 a3,3 0 0 1 5.4,-1.6 a2.7,2.7 0 0 1 4.6,1.2 a2.8,2.8 0 0 1 0.6,5.5z" fill="url(#cloud)" stroke="#4a68a8" stroke-width="1"/>
<path d="M146,10.7 L150,3.8 A8,8 0 0 1 146.6,18.7 Z" fill="#6ab86a" opacity="0.45"/>
<circle cx="146" cy="10.7" r="7.7" fill="none" stroke="url(#sig)" stroke-width="1.1" opacity="0.7"/>
<circle cx="146" cy="10.7" r="5.2" fill="none" stroke="url(#sig)" stroke-width="1.1" opacity="0.75"/>
<circle cx="146" cy="10.7" r="2.9" fill="none" stroke="url(#sig)" stroke-width="1.1" opacity="0.5"/>
<circle cx="146" cy="10.4" r="1.6" fill="#2a5ad0"/>
<path d="M146.6,11 V18.8" stroke="#2aa02a" stroke-width="1.4"/>
<path d="M165.8,10.4 L180.7,9.8 L178.4,14.6 L172.9,18.9 Z" fill="url(#face)" stroke="#c8a020" stroke-width="0.8" stroke-linejoin="round"/>
<ellipse cx="173.3" cy="8" rx="7.8" ry="2.5" fill="#3f9fd0" stroke="#2a86b6" stroke-width="0.7"/>
<path d="M169,7.6 Q169,3.2 173.3,3.2 Q177.6,3.2 177.6,7.6 Q173.3,9.2 169,7.6z" fill="url(#hat)" stroke="#2a86b6" stroke-width="0.6"/>
<ellipse cx="172.4" cy="5" rx="1.8" ry="1" fill="#c8ecfa" opacity="0.8"/>
<circle cx="177.3" cy="14.6" r="3.9" fill="#de2a16"/><rect x="176" y="13.3" width="2.8" height="2.8" fill="#fff"/>
<text x="186.6" y="14.5" font-size="11.8" fill="#000" stroke="#000" stroke-width="0.17" textLength="46.7" lengthAdjust="spacingAndGlyphs" style="font-family:'Liberation Sans','Noto Sans CJK SC',sans-serif">自动交易</text>
<rect x="241" y="0" width="1" height="23" fill="#a0a0a0" shape-rendering="crispEdges"/>
<rect x="242" y="0" width="1" height="23" fill="#fff" shape-rendering="crispEdges"/>
<rect x="245" y="1" width="3" height="1" fill="#a0a0a0" shape-rendering="crispEdges"/>
<rect x="245" y="3" width="3" height="1" fill="#a0a0a0" shape-rendering="crispEdges"/>
<rect x="245" y="5" width="3" height="1" fill="#a0a0a0" shape-rendering="crispEdges"/>
<rect x="245" y="7" width="3" height="1" fill="#a0a0a0" shape-rendering="crispEdges"/>
<rect x="245" y="9" width="3" height="1" fill="#a0a0a0" shape-rendering="crispEdges"/>
<rect x="245" y="11" width="3" height="1" fill="#a0a0a0" shape-rendering="crispEdges"/>
<rect x="245" y="13" width="3" height="1" fill="#a0a0a0" shape-rendering="crispEdges"/>
<rect x="245" y="15" width="3" height="1" fill="#a0a0a0" shape-rendering="crispEdges"/>
<rect x="245" y="17" width="3" height="1" fill="#a0a0a0" shape-rendering="crispEdges"/>
<rect x="245" y="19" width="3" height="1" fill="#a0a0a0" shape-rendering="crispEdges"/>
<g fill="#555" shape-rendering="crispEdges"><rect x="259" y="6" width="1" height="13"/><rect x="257" y="16" width="12" height="1"/></g>
<polygon points="259.5,4.6 257.8,7.2 261.2,7.2" fill="#555"/>
<polygon points="270.8,16.5 268.2,14.8 268.2,18.2" fill="#555"/>
<g stroke="#0a9a14" stroke-width="1.4" fill="none"><path d="M265.5,6 V15"/><path d="M265.5,7.5 H268"/><path d="M263,13.5 H265.5"/></g>
<rect x="279" y="0" width="1" height="21" fill="#a0a0a0" shape-rendering="crispEdges"/>
<rect x="280" y="0" width="24" height="21" fill="url(#chk)" shape-rendering="crispEdges"/>
<g fill="#555" shape-rendering="crispEdges"><rect x="287" y="6" width="1" height="13"/><rect x="285" y="16" width="12" height="1"/></g>
<polygon points="287.5,4.6 285.8,7.2 289.2,7.2" fill="#555"/>
<polygon points="298.8,16.5 296.2,14.8 296.2,18.2" fill="#555"/>
<path d="M293.5,3 V15" stroke="#0a9a14" stroke-width="1.3"/><rect x="291.5" y="5.5" width="4" height="7" fill="#58f068" stroke="#0a9a14" stroke-width="1.2"/>
<g fill="#555" shape-rendering="crispEdges"><rect x="315" y="6" width="1" height="13"/><rect x="313" y="16" width="12" height="1"/></g>
<polygon points="315.5,4.6 313.8,7.2 317.2,7.2" fill="#555"/>
<polygon points="326.8,16.5 324.2,14.8 324.2,18.2" fill="#555"/>
<path d="M314.2,13.8 C317,12.5 318.5,8.2 320.4,8.2 C322,8.2 323.5,11.5 325.8,12.2" fill="none" stroke="#2a9a34" stroke-width="1.3"/>
<rect x="336" y="0" width="1" height="21" fill="#a0a0a0" shape-rendering="crispEdges"/>
<path d="M355.2,12.6 L359.4,17" stroke="#a87a10" stroke-width="3" stroke-linecap="round"/>
<path d="M355.2,12.6 L359.4,17" stroke="#f0d040" stroke-width="1.5" stroke-linecap="round"/>
<circle cx="351" cy="8.9" r="5.3" fill="#d8f2fb" stroke="#3a7fc8" stroke-width="1.2"/>
<path d="M348,8.9 H354" stroke="#3a88b0" stroke-width="1.8"/>
<path d="M351,5.9 V11.9" stroke="#3a88b0" stroke-width="1.8"/>
<path d="M383.2,12.6 L387.4,17" stroke="#a87a10" stroke-width="3" stroke-linecap="round"/>
<path d="M383.2,12.6 L387.4,17" stroke="#f0d040" stroke-width="1.5" stroke-linecap="round"/>
<circle cx="379" cy="8.9" r="5.3" fill="#d8f2fb" stroke="#3a7fc8" stroke-width="1.2"/>
<path d="M376,8.9 H382" stroke="#3a88b0" stroke-width="1.8"/>
<rect x="401" y="3" width="8" height="8" fill="#3aa628" shape-rendering="crispEdges"/>
<rect x="401" y="3" width="8" height="3" fill="#2a8a1a" opacity="0.55" shape-rendering="crispEdges"/>
<rect x="402" y="4" width="1" height="1" fill="#d8f0d8"/>
<rect x="402" y="6.4" width="6" height="3.8" fill="#fff"/>
<rect x="403" y="7.4" width="4" height="1.1" fill="#8ed07e"/>
<rect x="409" y="3" width="8" height="8" fill="#2a5ee0" shape-rendering="crispEdges"/>
<rect x="409" y="3" width="8" height="3" fill="#1a3cc0" opacity="0.55" shape-rendering="crispEdges"/>
<rect x="410" y="4" width="1" height="1" fill="#d8f0d8"/>
<rect x="410" y="6.4" width="6" height="3.8" fill="#fff"/>
<rect x="411" y="7.4" width="4" height="1.1" fill="#8aa8f0"/>
<rect x="401" y="11" width="8" height="8" fill="#2a5ee0" shape-rendering="crispEdges"/>
<rect x="401" y="11" width="8" height="3" fill="#1a3cc0" opacity="0.55" shape-rendering="crispEdges"/>
<rect x="402" y="12" width="1" height="1" fill="#d8f0d8"/>
<rect x="402" y="14.4" width="6" height="3.8" fill="#fff"/>
<rect x="403" y="15.4" width="4" height="1.1" fill="#8aa8f0"/>
<rect x="409" y="11" width="8" height="8" fill="#3aa628" shape-rendering="crispEdges"/>
<rect x="409" y="11" width="8" height="3" fill="#2a8a1a" opacity="0.55" shape-rendering="crispEdges"/>
<rect x="410" y="12" width="1" height="1" fill="#d8f0d8"/>
<rect x="410" y="14.4" width="6" height="3.8" fill="#fff"/>
<rect x="411" y="15.4" width="4" height="1.1" fill="#8ed07e"/>
<rect x="426" y="0" width="1" height="21" fill="#a0a0a0" shape-rendering="crispEdges"/>
<rect x="431" y="0" width="1" height="21" fill="#a0a0a0" shape-rendering="crispEdges"/>
<rect x="432" y="0" width="24" height="21" fill="url(#chk)" shape-rendering="crispEdges"/>
<g fill="#555" shape-rendering="crispEdges"><rect x="439" y="6" width="1" height="13"/><rect x="437" y="16" width="12" height="1"/></g>
<polygon points="439.5,4.6 437.8,7.2 441.2,7.2" fill="#555"/>
<polygon points="450.8,16.5 448.2,14.8 448.2,18.2" fill="#555"/>
<polygon points="444.5,7.3 447.6,10.6 444.5,13.8" fill="#7ae07a" stroke="#0a9a14" stroke-width="1.1"/>
<rect x="459" y="0" width="1" height="21" fill="#a0a0a0" shape-rendering="crispEdges"/>
<rect x="460" y="0" width="24" height="21" fill="url(#chk)" shape-rendering="crispEdges"/>
<g fill="#555" shape-rendering="crispEdges"><rect x="467" y="6" width="1" height="13"/><rect x="465" y="16" width="12" height="1"/></g>
<polygon points="467.5,4.6 465.8,7.2 469.2,7.2" fill="#555"/>
<polygon points="478.8,16.5 476.2,14.8 476.2,18.2" fill="#555"/>
<path d="M473.5,5.3 V14.8" stroke="#1a78b8" stroke-width="1.3"/>
<path d="M479,10.6 H475" stroke="#d84a10" stroke-width="1.2"/><polygon points="474.2,10.6 477.4,8.4 476.6,10.6 477.4,12.8" fill="#d84a10"/>
<rect x="488" y="0" width="1" height="21" fill="#a0a0a0" shape-rendering="crispEdges"/>
<path d="M499.7,4.0 h6.5 l3.5,3.5 v9.5 h-10 a1,1 0 0 1 -1,-1 v-11 a1,1 0 0 1 1,-1z" fill="#fff" stroke="#777" stroke-width="1"/>
<path d="M506.2,4.0 v3.5 h3.5" fill="#e0e0e0" stroke="#777" stroke-width="0.8"/>
<path d="M506.7,10.0 h3.5 v4 h4 v3.5 h-4 v4 h-3.5 v-4 h-4 v-3.5 h4z" fill="#2fd83a" stroke="#0a8a14" stroke-width="1"/>
<path d="M507.7,11.0 h1.5 v4 h-1.5z M503.7,15.0 h4 v1.2 h-4z" fill="#8af58f"/>
<path d="M503.6,6.2 q-2.2,-0.6 -2.4,1.6 v6.4 M500,10.2 h2.6" fill="none" stroke="#6a6048" stroke-width="1"/>
<polygon points="519.5,10 525.5,10 522.5,13.2" fill="#000"/>
<circle cx="544" cy="10.9" r="7" fill="#fdfdfd" stroke="#1a6ad8" stroke-width="2.2"/>
<circle cx="544" cy="10.9" r="8.1" fill="none" stroke="#0a4ab0" stroke-width="0.5"/>
<circle cx="544" cy="10.9" r="4.9" fill="none" stroke="#b8bcc4" stroke-width="1.2" stroke-dasharray="0.8 1.77"/>
<path d="M537.2,13.4 A7.2,7.2 0 0 0 550.8,13.4" fill="none" stroke="#0a4cb4" stroke-width="2.2" opacity="0.7"/>
<path d="M543.5,6.6 V11 H547.2" fill="none" stroke="#222" stroke-width="1.2"/>
<polygon points="558.6,10 564.6,10 561.6,13.2" fill="#000"/>
<rect x="575.5" y="4.5" width="15" height="13" fill="#fff" stroke="#3a7ad0" stroke-width="1"/>
<rect x="575" y="4" width="16" height="2.6" fill="#3a86e0"/>
<rect x="576" y="11.6" width="14" height="1" fill="#8ab4e8"/>
<path d="M577.4,10.4 h2 l1.4,-1.4 h1.4 l1.2,0.8 h2 l1.4,-1.4 h1" fill="none" stroke="#a83010" stroke-width="1.2"/>
<path d="M578.2,15.6 h1.4 l1.4,-1 l1.6,1 l2.4,-2.4 h1 l2,2.4" fill="none" stroke="#1a8a2a" stroke-width="1.2"/>
<polygon points="597.5,10 603.5,10 600.5,13.2" fill="#000"/>
<rect x="609" y="0" width="1" height="23" fill="#a0a0a0" shape-rendering="crispEdges"/>
<rect x="610" y="0" width="1" height="23" fill="#fff" shape-rendering="crispEdges"/>
<rect x="613" y="1" width="3" height="1" fill="#a0a0a0" shape-rendering="crispEdges"/>
<rect x="613" y="3" width="3" height="1" fill="#a0a0a0" shape-rendering="crispEdges"/>
<rect x="613" y="5" width="3" height="1" fill="#a0a0a0" shape-rendering="crispEdges"/>
<rect x="613" y="7" width="3" height="1" fill="#a0a0a0" shape-rendering="crispEdges"/>
<rect x="613" y="9" width="3" height="1" fill="#a0a0a0" shape-rendering="crispEdges"/>
<rect x="613" y="11" width="3" height="1" fill="#a0a0a0" shape-rendering="crispEdges"/>
<rect x="613" y="13" width="3" height="1" fill="#a0a0a0" shape-rendering="crispEdges"/>
<rect x="613" y="15" width="3" height="1" fill="#a0a0a0" shape-rendering="crispEdges"/>
<rect x="613" y="17" width="3" height="1" fill="#a0a0a0" shape-rendering="crispEdges"/>
<rect x="613" y="19" width="3" height="1" fill="#a0a0a0" shape-rendering="crispEdges"/>
<rect x="619" y="0" width="1" height="21" fill="#a0a0a0" shape-rendering="crispEdges"/>
<rect x="620" y="0" width="24" height="21" fill="url(#chk)" shape-rendering="crispEdges"/>
<polygon points="627.2,4.2 627.2,14.8 629.8,12.8 632.3,17.8 633.8,17.1 631.4,12.2 635,11.3" fill="#4d4d4d"/>
<g stroke="#4d4d4d" stroke-width="1" shape-rendering="crispEdges"><path d="M652,11.5 H658 M661,11.5 H667"/><path d="M659.5,4 V10 M659.5,13 V19"/></g>
<rect x="676" y="0" width="1" height="21" fill="#a0a0a0" shape-rendering="crispEdges"/>
<g stroke="#4d4d4d" stroke-width="1.2"><path d="M693.5,5.3 V17.8"/><path d="M716,11.5 H728.2"/><path d="M743.8,17.8 L756.2,5.6"/></g>
<g stroke="#4d4d4d" stroke-width="1"><path d="M769.8,12.8 L778,5"/><path d="M771.5,17.4 L782.8,5.8"/><path d="M775,18 L784,9.4"/><path d="M771.8,11 l1.2,5 M774.2,8.8 l1.4,5.4 M776.8,6.6 l1.4,5.2 M781.6,3.2 l1,6"/></g>
<text x="781" y="20" font-size="6.6" font-weight="bold" fill="#4d4d4d">E</text>
<line x1="799" y1="4.5" x2="812" y2="4.5" stroke="#4d4d4d" stroke-width="1" stroke-dasharray="1 1" shape-rendering="crispEdges"/>
<line x1="799" y1="7.5" x2="812" y2="7.5" stroke="#4d4d4d" stroke-width="1" stroke-dasharray="1 1" shape-rendering="crispEdges"/>
<line x1="799" y1="11.5" x2="812" y2="11.5" stroke="#4d4d4d" stroke-width="1" stroke-dasharray="1 1" shape-rendering="crispEdges"/>
<line x1="799" y1="15.5" x2="807" y2="15.5" stroke="#4d4d4d" stroke-width="1" stroke-dasharray="1 1" shape-rendering="crispEdges"/>
<text x="808.6" y="20" font-size="6.6" font-weight="bold" fill="#4d4d4d">F</text>
<text x="833.6" y="15.9" font-size="11.6" text-anchor="middle" fill="#4d4d4d" stroke="#4d4d4d" stroke-width="0.25">A</text>
<rect x="856.5" y="5.5" width="11" height="12" fill="none" stroke="#4d4d4d" stroke-width="1" stroke-dasharray="1 1" shape-rendering="crispEdges"/>
<rect x="855" y="4" width="2" height="2" fill="#4d4d4d"/>
<text x="862" y="16" font-size="11" text-anchor="middle" fill="#4d4d4d" stroke="#4d4d4d" stroke-width="0.3">T</text>
<polygon points="886.3,4.8 890,8 888.4,9.4 884.2,9.4 882.8,8" fill="#4d4d4d"/>
<polygon points="893.6,17.8 890,14.6 891.4,13.4 895.8,13.4 897.2,14.6" fill="#4d4d4d"/>
<path d="M885,12.6 L887.6,14.6 L891.6,9.4" fill="none" stroke="#4d4d4d" stroke-width="1.4"/>
<polygon points="903.6,10 909.6,10 906.6,13.2" fill="#000"/>
<rect x="915" y="0" width="1" height="23" fill="#a0a0a0" shape-rendering="crispEdges"/>
<rect x="916" y="0" width="1" height="23" fill="#fff" shape-rendering="crispEdges"/>
<rect x="919" y="1" width="3" height="1" fill="#a0a0a0" shape-rendering="crispEdges"/>
<rect x="919" y="3" width="3" height="1" fill="#a0a0a0" shape-rendering="crispEdges"/>
<rect x="919" y="5" width="3" height="1" fill="#a0a0a0" shape-rendering="crispEdges"/>
<rect x="919" y="7" width="3" height="1" fill="#a0a0a0" shape-rendering="crispEdges"/>
<rect x="919" y="9" width="3" height="1" fill="#a0a0a0" shape-rendering="crispEdges"/>
<rect x="919" y="11" width="3" height="1" fill="#a0a0a0" shape-rendering="crispEdges"/>
<rect x="919" y="13" width="3" height="1" fill="#a0a0a0" shape-rendering="crispEdges"/>
<rect x="919" y="15" width="3" height="1" fill="#a0a0a0" shape-rendering="crispEdges"/>
<rect x="919" y="17" width="3" height="1" fill="#a0a0a0" shape-rendering="crispEdges"/>
<rect x="919" y="19" width="3" height="1" fill="#a0a0a0" shape-rendering="crispEdges"/>
<text x="931" y="14.8" font-size="9.6" fill="#4d4d4d" textLength="12" lengthAdjust="spacingAndGlyphs">M1</text>
<text x="959" y="14.8" font-size="9.6" fill="#4d4d4d" textLength="12" lengthAdjust="spacingAndGlyphs">M5</text>
<text x="984.6" y="14.8" font-size="9.6" fill="#4d4d4d" textLength="17.6" lengthAdjust="spacingAndGlyphs">M15</text>
<text x="1012.6" y="14.8" font-size="9.6" fill="#4d4d4d" textLength="18" lengthAdjust="spacingAndGlyphs">M30</text>
<text x="1044" y="14.8" font-size="9.6" fill="#4d4d4d" textLength="11.4" lengthAdjust="spacingAndGlyphs">H1</text>
<rect x="1065" y="0" width="1" height="21" fill="#a0a0a0" shape-rendering="crispEdges"/>
<rect x="1066" y="0" width="24" height="21" fill="url(#chk)" shape-rendering="crispEdges"/>
<text x="1071" y="14.8" font-size="9.6" fill="#4d4d4d" textLength="12" lengthAdjust="spacingAndGlyphs">H4</text>
<text x="1100" y="14.8" font-size="9.6" fill="#4d4d4d" textLength="11.2" lengthAdjust="spacingAndGlyphs">D1</text>
<text x="1127.4" y="14.8" font-size="9.6" fill="#4d4d4d" textLength="14" lengthAdjust="spacingAndGlyphs">W1</text>
<text x="1154" y="14.8" font-size="9.6" fill="#4d4d4d" textLength="14.2" lengthAdjust="spacingAndGlyphs">MN</text>
<rect x="1176" y="0" width="1" height="21" fill="#a0a0a0" shape-rendering="crispEdges"/>
<path d="M1643.6,11.8 L1639.4,15.6" stroke="#2a5cd0" stroke-width="2.4" stroke-linecap="round"/>
<circle cx="1646.8" cy="8.5" r="3.9" fill="#fbfbff" stroke="#2a5cd0" stroke-width="1.3"/>
<path d="M1663.2,13.6 a5.2,4.4 0 1 1 6,4.2 l-2.6,0 l-0.4,1.6 l-0.8,-2 a5,4.4 0 0 1 -2.2,-3.8z" fill="#f2f3f7" stroke="#a8a8a8" stroke-width="0.9"/>
<circle cx="1677.5" cy="8.3" r="8" fill="url(#badge)"/>
<text x="1677.5" y="13" font-size="12.5" text-anchor="middle" fill="#fff" font-family="Liberation Serif, serif" stroke="#fff" stroke-width="0.35">1</text>
</svg>
</body></html>
